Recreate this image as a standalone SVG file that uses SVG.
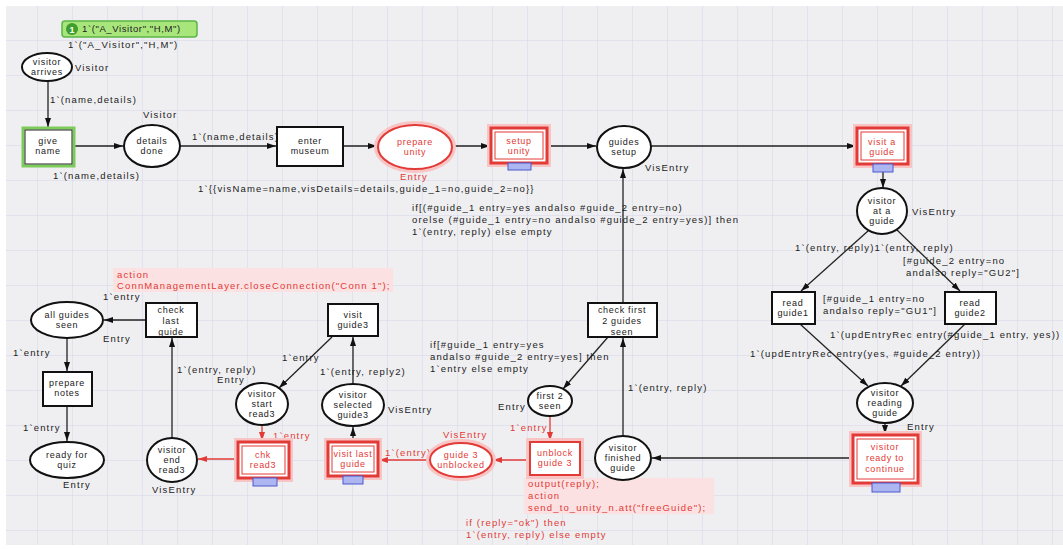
<svg xmlns="http://www.w3.org/2000/svg" width="1063" height="549" viewBox="0 0 1063 549">
  <defs>
    <pattern id="grid" x="2" y="5" width="35" height="35" patternUnits="userSpaceOnUse">
      <path d="M0,0 H35 M0,0 V35" fill="none" stroke="#d6d6ec" stroke-width="1"/>
    </pattern>
    <marker id="arr" viewBox="0 0 9 6" refX="9" refY="3" markerWidth="9" markerHeight="6" markerUnits="userSpaceOnUse" orient="auto">
      <path d="M0,0 L9,3 L0,6 z" fill="#111"/>
    </marker>
    <marker id="arrR" viewBox="0 0 9 6" refX="9" refY="3" markerWidth="9" markerHeight="6" markerUnits="userSpaceOnUse" orient="auto">
      <path d="M0,0 L9,3 L0,6 z" fill="#e23a36"/>
    </marker>
    <style>
      .place { fill: #fff; stroke: #111; stroke-width: 2; }
      .trans { fill: #fff; stroke: #111; stroke-width: 2; }
      .rplace { fill: #fff; stroke: #e23a36; stroke-width: 2; }
      .rtrans { fill: #fff; stroke: #e23a36; stroke-width: 3; }
      .rinner { fill: none; stroke: #e23a36; stroke-width: 1; }
      .glow { fill: none; stroke: #f8c4c4; stroke-width: 8; }
      .tag { fill: #aeb6f2; stroke: #4b59cf; stroke-width: 1; }
      .arc { fill: none; stroke: #222; stroke-width: 1.3; marker-end: url(#arr); }
      .rarc { fill: none; stroke: #e23a36; stroke-width: 1.3; marker-end: url(#arrR); }
      text { font-family: "Liberation Sans", Arial, sans-serif; }
      .nt { font-size: 9px; fill: #222; text-anchor: middle; letter-spacing: 0.7px; }
      .rnt { font-size: 9px; fill: #e23a36; text-anchor: middle; letter-spacing: 0.7px; }
      .lb { font-size: 9.5px; fill: #222; letter-spacing: 1.15px; }
      .rlb { font-size: 9.5px; fill: #e23a36; letter-spacing: 1.15px; }
      .hl { fill: #fbe1e1; }
    </style>
  </defs>

  <!-- canvas -->
  <rect x="0" y="0" width="1063" height="549" fill="#fff"/>
  <rect x="6" y="6" width="1057" height="539" fill="#efeff1"/>
  <rect x="6" y="6" width="1057" height="539" fill="url(#grid)"/>

  <!-- connectors -->
  <g id="arcs">
    <line class="arc" x1="48" y1="81" x2="48" y2="127"/>
    <line class="arc" x1="74" y1="146" x2="123" y2="146"/>
    <line class="arc" x1="180" y1="146" x2="276" y2="146"/>
    <line class="arc" x1="343" y1="146" x2="377" y2="146"/>
    <line class="arc" x1="452" y1="146" x2="490" y2="146"/>
    <line class="arc" x1="547" y1="146" x2="596" y2="146"/>
    <line class="arc" x1="651" y1="146" x2="856" y2="146"/>
    <line class="arc" x1="883" y1="172" x2="883" y2="188"/>
    <line class="arc" x1="868" y1="231" x2="801" y2="291"/>
    <line class="arc" x1="897" y1="230" x2="960" y2="291"/>
    <line class="arc" x1="800" y1="324" x2="868" y2="386"/>
    <line class="arc" x1="965" y1="324" x2="901" y2="386"/>
    <line class="arc" x1="885" y1="423" x2="885" y2="434"/>
    <line class="arc" x1="853" y1="458" x2="652" y2="458"/>
    <line class="arc" x1="623" y1="436" x2="623" y2="338"/>
    <line class="arc" x1="623" y1="303" x2="623" y2="169"/>
    <line class="arc" x1="608" y1="337" x2="563" y2="389"/>
    <line class="rarc" x1="550" y1="416" x2="550" y2="441"/>
    <line class="rarc" x1="530" y1="460" x2="493" y2="460"/>
    <line class="rarc" x1="430" y1="460" x2="379" y2="460"/>
    <line class="arc" x1="353" y1="442" x2="353" y2="427"/>
    <line class="arc" x1="353" y1="384" x2="353" y2="337"/>
    <line class="arc" x1="332" y1="337" x2="279" y2="388"/>
    <line class="rarc" x1="262" y1="425" x2="262" y2="441"/>
    <line class="rarc" x1="238" y1="459" x2="198" y2="459"/>
    <line class="arc" x1="172" y1="438" x2="172" y2="338"/>
    <line class="arc" x1="146" y1="320" x2="104" y2="320"/>
    <line class="arc" x1="67" y1="338" x2="67" y2="371"/>
    <line class="arc" x1="67" y1="406" x2="67" y2="441"/>
  </g>

  <!-- inscriptions on arcs and places -->
  <g id="inscriptions">
    <text class="lb" x="68" y="48">1`("A_Visitor","H,M")</text>
    <text class="lb" x="75" y="71">Visitor</text>
    <text class="lb" x="50" y="103">1`(name,details)</text>
    <text class="lb" x="143" y="118">Visitor</text>
    <text class="lb" x="53" y="179">1`(name,details)</text>
    <text class="lb" x="192" y="140">1`(name,details)</text>
    <text class="rlb" x="400" y="180">Entry</text>
    <text class="lb" x="198" y="192">1`{{visName=name,visDetails=details,guide_1=no,guide_2=no}}</text>
    <text class="lb" x="645" y="171">VisEntry</text>
    <text class="lb" x="912" y="215">VisEntry</text>
    <text class="lb" x="412" y="211">if[(#guide_1 entry=yes andalso #guide_2 entry=no)</text>
    <text class="lb" x="412" y="223">orelse (#guide_1 entry=no andalso #guide_2 entry=yes)] then</text>
    <text class="lb" x="412" y="235">1`(entry, reply)  else empty</text>
    <text class="lb" x="795" y="251">1`(entry, reply)1`(entry, reply)</text>
    <text class="lb" x="903" y="264">[#guide_2 entry=no</text>
    <text class="lb" x="906" y="276">andalso reply="GU2"]</text>
    <text class="lb" x="823" y="302">[#guide_1 entry=no</text>
    <text class="lb" x="823" y="314">andalso reply="GU1"]</text>
    <text class="lb" x="830" y="338">1`(updEntryRec entry(#guide_1 entry, yes))</text>
    <text class="lb" x="750" y="357">1`(updEntryRec entry(yes, #guide_2 entry))</text>
    <text class="lb" x="907" y="430">Entry</text>
    <text class="lb" x="647" y="487">VisEntry</text>
    <text class="lb" x="628" y="391">1`(entry, reply)</text>
    <text class="lb" x="430" y="348">if[#guide_1 entry=yes</text>
    <text class="lb" x="430" y="360">andalso #guide_2 entry=yes] then</text>
    <text class="lb" x="430" y="372">1`entry else empty</text>
    <text class="lb" x="498" y="410">Entry</text>
    <text class="rlb" x="510" y="431">1`entry</text>
    <rect class="hl" x="524" y="478" width="190" height="36"/>
    <text class="rlb" x="528" y="487">output(reply);</text>
    <text class="rlb" x="528" y="499">action</text>
    <text class="rlb" x="528" y="511">send_to_unity_n.att("freeGuide");</text>
    <text class="rlb" x="466" y="526">if (reply="ok") then</text>
    <text class="rlb" x="466" y="538">1`(entry, reply) else empty</text>
    <text class="rlb" x="443" y="438">VisEntry</text>
    <text class="rlb" x="385" y="456">1`(entry)</text>
    <text class="lb" x="320" y="375">1`(entry, reply2)</text>
    <text class="lb" x="388" y="413">VisEntry</text>
    <text class="lb" x="282" y="361">1`entry</text>
    <text class="lb" x="217" y="383">Entry</text>
    <text class="lb" x="177" y="373">1`(entry, reply)</text>
    <text class="rlb" x="273" y="439">1`entry</text>
    <text class="lb" x="152" y="493">VisEntry</text>
    <text class="lb" x="63" y="488">Entry</text>
    <text class="lb" x="23" y="431">1`entry</text>
    <text class="lb" x="13" y="356">1`entry</text>
    <text class="lb" x="103" y="342">Entry</text>
    <text class="lb" x="103" y="300">1`entry</text>
    <rect class="hl" x="113" y="268" width="280" height="24"/>
    <text class="rlb" x="117" y="278">action</text>
    <text class="rlb" x="117" y="289">ConnManagementLayer.closeConnection("Conn 1");</text>
  </g>

  <!-- initial marking -->
  <g id="marking">
    <rect x="62" y="21" width="135" height="16" rx="3" fill="#a8e67c" stroke="#5cb546" stroke-width="1.5"/>
    <circle cx="72" cy="29" r="6" fill="#3f9e2c"/>
    <text x="72" y="32.5" font-size="9" fill="#fff" text-anchor="middle" font-weight="bold">1</text>
    <text class="lb" x="82" y="32" style="letter-spacing:0.6px">1`("A_Visitor","H,M")</text>
  </g>

  <!-- places -->
  <g id="p-visitor-arrives"><ellipse class="place" cx="47" cy="67" rx="25" ry="14"/><text class="nt" x="47" y="65">visitor<tspan x="47" dy="10">arrives</tspan></text></g>
  <g id="p-details-done"><ellipse class="place" cx="152" cy="146" rx="28" ry="21"/><text class="nt" x="152" y="144">details<tspan x="152" dy="10">done</tspan></text></g>
  <g id="p-prepare-unity"><ellipse class="glow" cx="415" cy="147" rx="37" ry="22"/><ellipse class="rplace" cx="415" cy="147" rx="37" ry="22"/><text class="rnt" x="415" y="145">prepare<tspan x="415" dy="10">unity</tspan></text></g>
  <g id="p-guides-setup"><ellipse class="place" cx="624" cy="147" rx="27" ry="21"/><text class="nt" x="624" y="145">guides<tspan x="624" dy="10">setup</tspan></text></g>
  <g id="p-visitor-at-guide"><ellipse class="place" cx="882" cy="211" rx="25" ry="23"/><text class="nt" x="882" y="204">visitor<tspan x="882" dy="10">at a</tspan><tspan x="882" dy="10">guide</tspan></text></g>
  <g id="p-visitor-reading-guide"><ellipse class="place" cx="885" cy="403" rx="28" ry="20"/><text class="nt" x="885" y="396">visitor<tspan x="885" dy="10">reading</tspan><tspan x="885" dy="10">guide</tspan></text></g>
  <g id="p-visitor-finished-guide"><ellipse class="place" cx="623" cy="458" rx="28" ry="22"/><text class="nt" x="623" y="451">visitor<tspan x="623" dy="10">finished</tspan><tspan x="623" dy="10">guide</tspan></text></g>
  <g id="p-first-2-seen"><ellipse class="place" cx="550" cy="401" rx="22" ry="15"/><text class="nt" x="550" y="399">first 2<tspan x="550" dy="10">seen</tspan></text></g>
  <g id="p-guide3-unblocked"><ellipse class="glow" cx="461" cy="460" rx="31" ry="17"/><ellipse class="rplace" cx="461" cy="460" rx="31" ry="17"/><text class="rnt" x="461" y="458">guide 3<tspan x="461" dy="10">unblocked</tspan></text></g>
  <g id="p-visitor-selected-guide3"><ellipse class="place" cx="353" cy="405" rx="31" ry="21"/><text class="nt" x="353" y="398">visitor<tspan x="353" dy="10">selected</tspan><tspan x="353" dy="10">guide3</tspan></text></g>
  <g id="p-visitor-start-read3"><ellipse class="place" cx="262" cy="404" rx="26" ry="21"/><text class="nt" x="262" y="397">visitor<tspan x="262" dy="10">start</tspan><tspan x="262" dy="10">read3</tspan></text></g>
  <g id="p-visitor-end-read3"><ellipse class="place" cx="172" cy="460" rx="25" ry="22"/><text class="nt" x="172" y="453">visitor<tspan x="172" dy="10">end</tspan><tspan x="172" dy="10">read3</tspan></text></g>
  <g id="p-all-guides-seen"><ellipse class="place" cx="67" cy="320" rx="36" ry="18"/><text class="nt" x="67" y="318">all guides<tspan x="67" dy="10">seen</tspan></text></g>
  <g id="p-ready-for-quiz"><ellipse class="place" cx="67" cy="460" rx="37" ry="18"/><text class="nt" x="67" y="458">ready for<tspan x="67" dy="10">quiz</tspan></text></g>

  <!-- transitions -->
  <g id="t-give-name"><rect x="23" y="128" width="51" height="38" fill="#fff" stroke="#7ccc5a" stroke-width="3"/><rect x="25" y="130" width="47" height="34" fill="none" stroke="#222" stroke-width="1"/><text class="nt" x="48" y="144">give<tspan x="48" dy="10">name</tspan></text></g>
  <g id="t-enter-museum"><rect class="trans" x="277" y="127" width="66" height="39"/><text class="nt" x="310" y="144">enter<tspan x="310" dy="10">museum</tspan></text></g>
  <g id="t-setup-unity"><rect class="glow" x="491" y="128" width="56" height="35"/><rect class="rtrans" x="491" y="128" width="56" height="35"/><rect class="rinner" x="495" y="132" width="48" height="27"/><rect class="tag" x="508" y="163" width="23" height="7"/><text class="rnt" x="519" y="144">setup<tspan x="519" dy="10">unity</tspan></text></g>
  <g id="t-visit-a-guide"><rect class="glow" x="857" y="128" width="51" height="36"/><rect class="rtrans" x="857" y="128" width="51" height="36"/><rect class="rinner" x="861" y="132" width="43" height="28"/><rect class="tag" x="873" y="164" width="20" height="8"/><text class="rnt" x="882" y="145">visit a<tspan x="882" dy="10">guide</tspan></text></g>
  <g id="t-read-guide1"><rect class="trans" x="772" y="292" width="43" height="32"/><text class="nt" x="793" y="306">read<tspan x="793" dy="10">guide1</tspan></text></g>
  <g id="t-read-guide2"><rect class="trans" x="945" y="292" width="51" height="32"/><text class="nt" x="970" y="306">read<tspan x="970" dy="10">guide2</tspan></text></g>
  <g id="t-visitor-ready-to-continue"><rect class="glow" x="853" y="435" width="65" height="48"/><rect class="rtrans" x="853" y="435" width="65" height="48"/><rect class="rinner" x="857" y="439" width="57" height="40"/><rect class="tag" x="872" y="483" width="28" height="9"/><text class="rnt" x="885" y="450">visitor<tspan x="885" dy="11">ready to</tspan><tspan x="885" dy="11">continue</tspan></text></g>
  <g id="t-check-first-2-guides-seen"><rect class="trans" x="588" y="303" width="69" height="34"/><text class="nt" x="622" y="313">check first<tspan x="622" dy="11">2 guides</tspan><tspan x="622" dy="11">seen</tspan></text></g>
  <g id="t-unblock-guide3"><rect class="glow" x="530" y="442" width="50" height="33"/><rect class="rplace" x="530" y="442" width="50" height="33"/><text class="rnt" x="555" y="456">unblock<tspan x="555" dy="10">guide 3</tspan></text></g>
  <g id="t-visit-last-guide"><rect class="glow" x="328" y="442" width="50" height="34"/><rect class="rtrans" x="328" y="442" width="50" height="34"/><rect class="rinner" x="332" y="446" width="42" height="26"/><rect class="tag" x="343" y="476" width="20" height="8"/><text class="rnt" x="353" y="457">visit last<tspan x="353" dy="10">guide</tspan></text></g>
  <g id="t-visit-guide3"><rect class="trans" x="328" y="304" width="50" height="32"/><text class="nt" x="353" y="318">visit<tspan x="353" dy="10">guide3</tspan></text></g>
  <g id="t-chk-read3"><rect class="glow" x="238" y="442" width="51" height="36"/><rect class="rtrans" x="238" y="442" width="51" height="36"/><rect class="rinner" x="242" y="446" width="43" height="28"/><rect class="tag" x="253" y="478" width="24" height="8"/><text class="rnt" x="263" y="458">chk<tspan x="263" dy="10">read3</tspan></text></g>
  <g id="t-check-last-guide"><rect class="trans" x="146" y="303" width="51" height="34"/><text class="nt" x="171" y="313">check<tspan x="171" dy="11">last</tspan><tspan x="171" dy="11">guide</tspan></text></g>
  <g id="t-prepare-notes"><rect class="trans" x="43" y="372" width="49" height="34"/><text class="nt" x="67" y="386">prepare<tspan x="67" dy="10">notes</tspan></text></g>
</svg>
